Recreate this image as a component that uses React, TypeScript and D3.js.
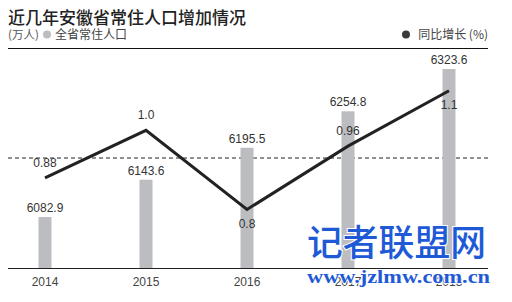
import React from "react";
import * as d3 from "d3";

const years = ["2014", "2015", "2016", "2017", "2018"];
const population = [6082.9, 6143.6, 6195.5, 6254.8, 6323.6];
const popLabels = ["6082.9", "6143.6", "6195.5", "6254.8", "6323.6"];
const growth = [0.88, 1.0, 0.8, 0.96, 1.1];
const growthLabels = ["0.88", "1.0", "0.8", "0.96", "1.1"];
const growthLabelAbove = [true, true, false, true, false];
const refGrowth = 0.93;

const W = 512;
const H = 302;

export default function App() {
  const x = d3.scalePoint<string>().domain(years).range([45, 449]);
  const yBar = d3.scaleLinear().domain([6000, 6323.6]).range([268, 69]);
  const yLine = d3.scaleLinear().domain([0.8, 1.1]).range([209.5, 90.7]);
  const line = d3
    .line<number>()
    .x((_, i) => x(years[i]) as number)
    .y((d) => yLine(d));
  const barW = 13;
  const numFont = "'Liberation Sans', Arial, sans-serif";
  const cjk = "'Noto Sans CJK SC', sans-serif";
  const blue = "#1f5ad6";

  return (
    <svg
      width={W}
      height={H}
      style={{ position: "absolute", left: 0, top: 0, background: "#fff" }}
    >
      <rect x={0} y={0} width={W} height={H} fill="#fff" />
      <text x={8} y={24} fontFamily={cjk} fontSize={17} fontWeight={500} fill="#222">
        近几年安徽省常住人口增加情况
      </text>
      <text x={8} y={39} fontFamily={cjk} fontSize={11.5} fill="#555">
        (万人)
      </text>
      <circle cx={47} cy={34.5} r={4} fill="#bdbdc0" />
      <text x={55} y={39} fontFamily={cjk} fontSize={12} fill="#444">
        全省常住人口
      </text>
      <circle cx={406} cy={34.5} r={4} fill="#3a3a3a" />
      <text x={488} y={39} textAnchor="end" fontFamily={cjk} fontSize={12} fill="#444">
        同比增长 (%)
      </text>
      <line x1={8} x2={488} y1={48.5} y2={48.5} stroke="#111" strokeWidth={1.2} />

      {/* reference dashed line */}
      <line
        x1={8}
        x2={488}
        y1={yLine(refGrowth)}
        y2={yLine(refGrowth)}
        stroke="#222"
        strokeWidth={1}
        strokeDasharray="4,3"
      />

      {/* bars */}
      {population.map((v, i) => (
        <rect
          key={years[i]}
          x={(x(years[i]) as number) - barW / 2}
          y={yBar(v)}
          width={barW}
          height={yBar(6000) - yBar(v)}
          fill="#bcbdc0"
        />
      ))}
      {population.map((v, i) => (
        <text
          key={"pl" + i}
          x={x(years[i]) as number}
          y={yBar(v) - 5}
          textAnchor="middle"
          fontFamily={numFont}
          fontSize={12}
          fill="#333"
        >
          {popLabels[i]}
        </text>
      ))}

      {/* baseline */}
      <line x1={8} x2={488} y1={268.5} y2={268.5} stroke="#222" strokeWidth={1} />

      {/* growth line */}
      <path
        d={line(growth) || ""}
        fill="none"
        stroke="#222"
        strokeWidth={3}
        strokeLinejoin="miter"
      />
      {growth.map((v, i) => (
        <text
          key={"gl" + i}
          x={x(years[i]) as number}
          y={growthLabelAbove[i] ? yLine(v) - 11 : yLine(v) + 18}
          textAnchor="middle"
          fontFamily={numFont}
          fontSize={12}
          fill="#333"
        >
          {growthLabels[i]}
        </text>
      ))}

      {/* x axis labels */}
      {years.map((yr) => (
        <text
          key={"x" + yr}
          x={x(yr) as number}
          y={286}
          textAnchor="middle"
          fontFamily={numFont}
          fontSize={12}
          fill="#444"
        >
          {yr}
        </text>
      ))}

      {/* watermark */}
      <text
        x={307}
        y={256}
        textLength={179}
        lengthAdjust="spacingAndGlyphs"
        fontFamily={cjk}
        fontSize={36}
        fontWeight={500}
        fill={blue}
        stroke="#fff"
        strokeWidth={2}
        style={{ paintOrder: "stroke" }}
      >
        记者联盟网
      </text>
      <text
        x={307}
        y={283}
        textLength={183}
        lengthAdjust="spacingAndGlyphs"
        fontFamily="'Liberation Serif', serif"
        fontSize={19}
        fontWeight={700}
        fill={blue}
        stroke="#fff"
        strokeWidth={1.5}
        style={{ paintOrder: "stroke" }}
      >
        www.jzlmw.com.cn
      </text>
    </svg>
  );
}
